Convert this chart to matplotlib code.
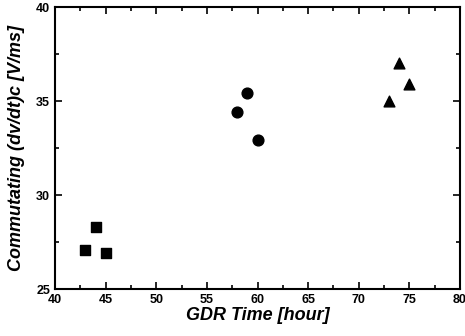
import matplotlib
matplotlib.use('Agg')
import matplotlib.pyplot as plt
from matplotlib.ticker import MultipleLocator

# data
sq_x = [43, 44, 45]
sq_y = [27.1, 28.3, 26.9]
ci_x = [58, 59, 60]
ci_y = [34.4, 35.4, 32.9]
tr_x = [73, 74, 75]
tr_y = [35.0, 37.0, 35.9]


def main() -> None:
    plt.rcParams['font.family'] = ['Liberation Sans', 'DejaVu Sans']
    fig = plt.figure(figsize=(4.65, 3.36), dpi=100)
    ax = fig.add_axes([55 / 465, 1 - 289 / 336, 405 / 465, 282 / 336])

    ax.scatter(sq_x, sq_y, marker='s', s=55, color='black')
    ax.scatter(ci_x, ci_y, marker='o', s=60, color='black')
    ax.scatter(tr_x, tr_y, marker='^', s=60, color='black')

    ax.set_xlim(40, 80)
    ax.set_ylim(25, 40)
    ax.xaxis.set_major_locator(MultipleLocator(5))
    ax.xaxis.set_minor_locator(MultipleLocator(2.5))
    ax.yaxis.set_major_locator(MultipleLocator(5))
    ax.yaxis.set_minor_locator(MultipleLocator(2.5))
    ax.tick_params(which='both', direction='in', top=True, right=True,
                   width=1.2, labelsize=9)
    ax.tick_params(which='major', length=5)
    ax.tick_params(which='minor', length=3)
    for lbl in ax.get_xticklabels() + ax.get_yticklabels():
        lbl.set_fontweight('bold')
    for sp in ax.spines.values():
        sp.set_linewidth(1.5)

    ax.set_xlabel('GDR Time [hour]', fontsize=13, fontweight='bold',
                  fontstyle='italic', labelpad=1)
    ax.set_ylabel('Commutating (dv/dt)c [V/ms]', fontsize=13,
                  fontweight='bold', fontstyle='italic', labelpad=8)

    fig.savefig('out.png', dpi=100)


if __name__ == '__main__':
    main()
